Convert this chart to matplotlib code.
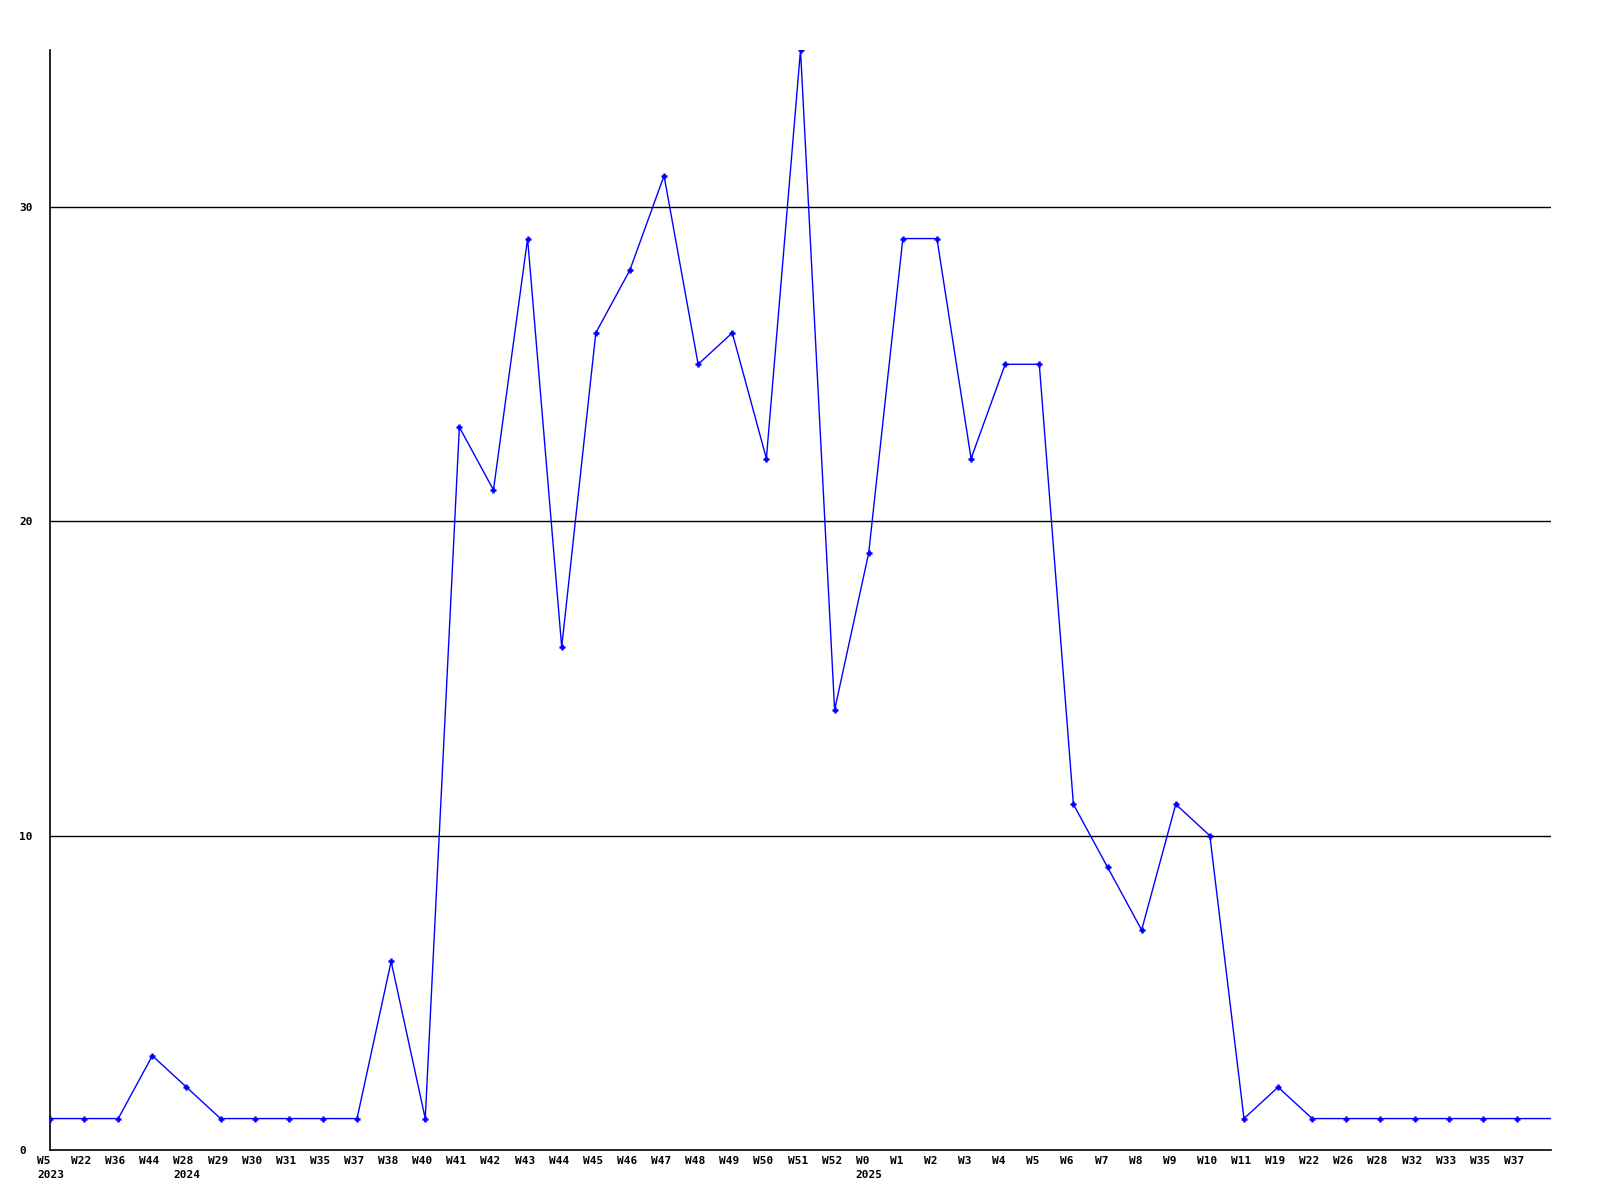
import matplotlib
matplotlib.use("Agg")
import matplotlib.pyplot as plt
from matplotlib.transforms import ScaledTranslation

weeks = ["W5", "W22", "W36", "W44", "W28", "W29", "W30", "W31", "W35", "W37",
         "W38", "W40", "W41", "W42", "W43", "W44", "W45", "W46", "W47", "W48",
         "W49", "W50", "W51", "W52", "W0", "W1", "W2", "W3", "W4", "W5",
         "W6", "W7", "W8", "W9", "W10", "W11", "W19", "W22", "W26", "W28",
         "W32", "W33", "W35", "W37", ""]
years = {0: "2023", 4: "2024", 24: "2025"}
counts = [1, 1, 1, 3, 2, 1, 1, 1, 1, 1,
          6, 1, 23, 21, 29, 16, 26, 28, 31, 25,
          26, 22, 35, 14, 19, 29, 29, 22, 25, 25,
          11, 9, 7, 11, 10, 1, 2, 1, 1, 1,
          1, 1, 1, 1, 1]
y_ticks = [0, 10, 20, 30]

fig = plt.figure(figsize=(16, 12), dpi=100)
ax = fig.add_axes([50 / 1600, 50 / 1200, 1501 / 1600, 1100 / 1200])

x = list(range(len(counts)))
for v in y_ticks[1:]:
    ax.axhline(v, color="black", lw=1, zorder=1)
ax.plot(x, counts, color="#0000ff", lw=1.0, marker="+", ms=4.5, mew=1.8,
        markevery=slice(0, len(counts) - 1), zorder=3)

ax.set_xlim(0, len(counts) - 1)
ax.set_ylim(0, 35)
for s in ["top", "right"]:
    ax.spines[s].set_visible(False)
for s in ["left", "bottom"]:
    ax.spines[s].set_linewidth(1.2)

font = dict(family="DejaVu Sans Mono", weight="bold", size=8)
labels = [w + ("\n" + years[i] if i in years else "") for i, w in enumerate(weeks)]
ax.set_xticks(x, labels, **font)
ax.tick_params(axis="x", length=0, pad=4)
shift = ScaledTranslation(-13 / 100, 0, fig.dpi_scale_trans)
for lab in ax.get_xticklabels():
    lab.set_horizontalalignment("left")
    lab.set_multialignment("left")
    lab.set_linespacing(1.6)
    lab.set_transform(lab.get_transform() + shift)

ax.set_yticks(y_ticks, [str(v) for v in y_ticks], **font)
ax.tick_params(axis="y", length=0, pad=22)
for lab in ax.get_yticklabels():
    lab.set_horizontalalignment("left")

fig.savefig("out.png", dpi=100)
